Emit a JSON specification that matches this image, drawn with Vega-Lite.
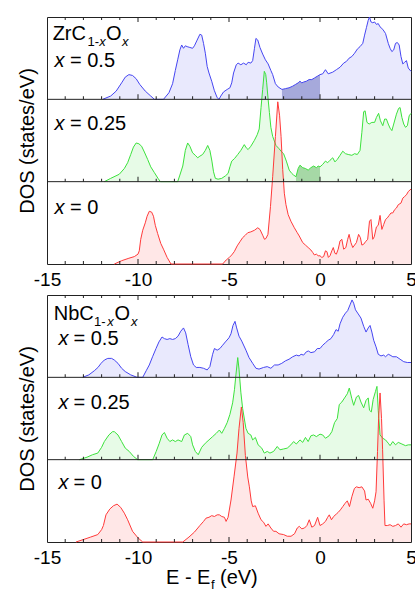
{
"$schema":"https://vega.github.io/schema/vega-lite/v6.json",
"padding":{"left":16,"top":14,"right":0,"bottom":0},
"spacing":4,
"config":{"view":{"stroke":"#222","strokeWidth":1},"font":"Liberation Sans","axis":{"grid":false,"ticks":false,"domain":false}},
"datasets":{
"Z5":[{"E":-11.94,"y":2},{"E":-11.5,"y":2.04},{"E":-11.2,"y":2.1},{"E":-10.9,"y":2.2},{"E":-10.7,"y":2.27},{"E":-10.5,"y":2.3},{"E":-10.3,"y":2.29},{"E":-10.1,"y":2.25},{"E":-9.9,"y":2.18},{"E":-9.6,"y":2.1},{"E":-9.3,"y":2.04},{"E":-9.1,"y":2},{"E":-8.6,"y":2},{"E":-8.3,"y":2.08},{"E":-8.1,"y":2.19},{"E":-7.95,"y":2.35},{"E":-7.82,"y":2.48},{"E":-7.7,"y":2.6},{"E":-7.6,"y":2.66},{"E":-7.5,"y":2.62},{"E":-7.4,"y":2.65},{"E":-7.3,"y":2.64},{"E":-7.15,"y":2.63},{"E":-7.0,"y":2.62},{"E":-6.9,"y":2.65},{"E":-6.75,"y":2.72},{"E":-6.6,"y":2.79},{"E":-6.5,"y":2.78},{"E":-6.4,"y":2.68},{"E":-6.3,"y":2.56},{"E":-6.2,"y":2.4},{"E":-6.1,"y":2.32},{"E":-5.95,"y":2.22},{"E":-5.81,"y":2.11},{"E":-5.65,"y":2.02},{"E":-5.55,"y":2.0},{"E":-5.45,"y":2.04},{"E":-5.3,"y":2.09},{"E":-5.1,"y":2.12},{"E":-4.95,"y":2.14},{"E":-4.85,"y":2.2},{"E":-4.75,"y":2.32},{"E":-4.6,"y":2.42},{"E":-4.5,"y":2.44},{"E":-4.35,"y":2.42},{"E":-4.2,"y":2.44},{"E":-4.05,"y":2.42},{"E":-3.95,"y":2.45},{"E":-3.8,"y":2.44},{"E":-3.7,"y":2.47},{"E":-3.6,"y":2.62},{"E":-3.52,"y":2.74},{"E":-3.42,"y":2.72},{"E":-3.3,"y":2.63},{"E":-3.15,"y":2.55},{"E":-3.0,"y":2.48},{"E":-2.85,"y":2.43},{"E":-2.7,"y":2.35},{"E":-2.6,"y":2.3},{"E":-2.45,"y":2.19},{"E":-2.3,"y":2.15},{"E":-2.09,"y":2.12},{"E":-1.9,"y":2.13},{"E":-1.7,"y":2.14},{"E":-1.5,"y":2.16},{"E":-1.35,"y":2.18},{"E":-1.2,"y":2.2},{"E":-1.1,"y":2.22},{"E":-1.0,"y":2.2},{"E":-0.9,"y":2.21},{"E":-0.75,"y":2.22},{"E":-0.6,"y":2.24},{"E":-0.45,"y":2.24},{"E":-0.3,"y":2.26},{"E":-0.15,"y":2.28},{"E":0,"y":2.3},{"E":0.15,"y":2.31},{"E":0.3,"y":2.36},{"E":0.45,"y":2.31},{"E":0.7,"y":2.33},{"E":0.9,"y":2.36},{"E":1.1,"y":2.39},{"E":1.3,"y":2.44},{"E":1.45,"y":2.46},{"E":1.6,"y":2.5},{"E":1.75,"y":2.52},{"E":1.9,"y":2.56},{"E":2.05,"y":2.61},{"E":2.2,"y":2.64},{"E":2.35,"y":2.68},{"E":2.45,"y":2.78},{"E":2.55,"y":2.87},{"E":2.65,"y":2.96},{"E":2.72,"y":3.0},{"E":2.8,"y":2.94},{"E":2.9,"y":2.93},{"E":3.0,"y":2.94},{"E":3.1,"y":2.91},{"E":3.2,"y":2.92},{"E":3.3,"y":2.88},{"E":3.45,"y":2.85},{"E":3.6,"y":2.8},{"E":3.75,"y":2.68},{"E":3.85,"y":2.62},{"E":3.95,"y":2.58},{"E":4.05,"y":2.6},{"E":4.15,"y":2.68},{"E":4.25,"y":2.69},{"E":4.35,"y":2.66},{"E":4.45,"y":2.52},{"E":4.55,"y":2.43},{"E":4.65,"y":2.45},{"E":4.75,"y":2.47},{"E":4.85,"y":2.38},{"E":5.0,"y":2.34}],
"Z25":[{"E":-11.85,"y":1},{"E":-11.5,"y":1.04},{"E":-11.03,"y":1.09},{"E":-10.75,"y":1.16},{"E":-10.57,"y":1.23},{"E":-10.4,"y":1.33},{"E":-10.25,"y":1.42},{"E":-10.1,"y":1.47},{"E":-9.95,"y":1.46},{"E":-9.8,"y":1.43},{"E":-9.65,"y":1.36},{"E":-9.47,"y":1.27},{"E":-9.3,"y":1.18},{"E":-9.1,"y":1.11},{"E":-8.9,"y":1.04},{"E":-8.77,"y":1},{"E":-7.82,"y":1},{"E":-7.7,"y":1.08},{"E":-7.54,"y":1.19},{"E":-7.4,"y":1.38},{"E":-7.27,"y":1.47},{"E":-7.15,"y":1.43},{"E":-7.0,"y":1.35},{"E":-6.85,"y":1.32},{"E":-6.72,"y":1.29},{"E":-6.6,"y":1.31},{"E":-6.45,"y":1.33},{"E":-6.3,"y":1.38},{"E":-6.17,"y":1.44},{"E":-6.05,"y":1.38},{"E":-5.94,"y":1.25},{"E":-5.85,"y":1.12},{"E":-5.75,"y":1.04},{"E":-5.6,"y":1.03},{"E":-5.4,"y":1.04},{"E":-5.2,"y":1.07},{"E":-5.05,"y":1.1},{"E":-4.95,"y":1.18},{"E":-4.85,"y":1.25},{"E":-4.7,"y":1.28},{"E":-4.52,"y":1.33},{"E":-4.35,"y":1.38},{"E":-4.16,"y":1.45},{"E":-4.05,"y":1.41},{"E":-3.95,"y":1.39},{"E":-3.8,"y":1.43},{"E":-3.61,"y":1.5},{"E":-3.45,"y":1.57},{"E":-3.34,"y":1.64},{"E":-3.24,"y":1.9},{"E":-3.15,"y":2.12},{"E":-3.06,"y":2.34},{"E":-2.98,"y":2.3},{"E":-2.93,"y":2.2},{"E":-2.85,"y":2.0},{"E":-2.78,"y":1.84},{"E":-2.7,"y":1.66},{"E":-2.6,"y":1.55},{"E":-2.42,"y":1.44},{"E":-2.25,"y":1.4},{"E":-2.1,"y":1.36},{"E":-2.0,"y":1.34},{"E":-1.85,"y":1.25},{"E":-1.69,"y":1.14},{"E":-1.55,"y":1.1},{"E":-1.45,"y":1.08},{"E":-1.32,"y":1.06},{"E":-1.2,"y":1.16},{"E":-1.1,"y":1.2},{"E":-0.95,"y":1.17},{"E":-0.8,"y":1.16},{"E":-0.65,"y":1.14},{"E":-0.5,"y":1.17},{"E":-0.35,"y":1.19},{"E":-0.2,"y":1.17},{"E":-0.1,"y":1.19},{"E":0,"y":1.18},{"E":0.15,"y":1.21},{"E":0.3,"y":1.25},{"E":0.42,"y":1.23},{"E":0.55,"y":1.26},{"E":0.7,"y":1.29},{"E":0.82,"y":1.24},{"E":0.95,"y":1.27},{"E":1.1,"y":1.32},{"E":1.25,"y":1.37},{"E":1.4,"y":1.34},{"E":1.55,"y":1.33},{"E":1.75,"y":1.32},{"E":1.9,"y":1.34},{"E":2.05,"y":1.33},{"E":2.2,"y":1.38},{"E":2.3,"y":1.6},{"E":2.4,"y":1.85},{"E":2.48,"y":1.86},{"E":2.58,"y":1.72},{"E":2.7,"y":1.7},{"E":2.85,"y":1.72},{"E":3.0,"y":1.72},{"E":3.1,"y":1.78},{"E":3.22,"y":1.83},{"E":3.32,"y":1.74},{"E":3.45,"y":1.68},{"E":3.55,"y":1.76},{"E":3.65,"y":1.76},{"E":3.75,"y":1.7},{"E":3.85,"y":1.65},{"E":3.95,"y":1.62},{"E":4.05,"y":1.7},{"E":4.2,"y":1.82},{"E":4.32,"y":1.89},{"E":4.4,"y":1.9},{"E":4.5,"y":1.78},{"E":4.6,"y":1.7},{"E":4.7,"y":1.66},{"E":4.8,"y":1.68},{"E":4.9,"y":1.8},{"E":5.0,"y":1.83}],
"Z0":[{"E":-11.3,"y":0},{"E":-10.9,"y":0.04},{"E":-10.5,"y":0.07},{"E":-10.2,"y":0.09},{"E":-10.0,"y":0.12},{"E":-9.93,"y":0.16},{"E":-9.85,"y":0.3},{"E":-9.74,"y":0.41},{"E":-9.6,"y":0.5},{"E":-9.5,"y":0.58},{"E":-9.38,"y":0.64},{"E":-9.25,"y":0.63},{"E":-9.15,"y":0.58},{"E":-9.05,"y":0.47},{"E":-8.92,"y":0.37},{"E":-8.75,"y":0.25},{"E":-8.6,"y":0.18},{"E":-8.4,"y":0.08},{"E":-8.19,"y":0},{"E":-5.35,"y":0},{"E":-5.15,"y":0.05},{"E":-4.98,"y":0.08},{"E":-4.85,"y":0.11},{"E":-4.71,"y":0.15},{"E":-4.55,"y":0.22},{"E":-4.4,"y":0.27},{"E":-4.25,"y":0.32},{"E":-4.1,"y":0.35},{"E":-3.97,"y":0.38},{"E":-3.8,"y":0.39},{"E":-3.6,"y":0.41},{"E":-3.42,"y":0.44},{"E":-3.3,"y":0.42},{"E":-3.15,"y":0.35},{"E":-3.05,"y":0.3},{"E":-2.97,"y":0.31},{"E":-2.86,"y":0.36},{"E":-2.72,"y":0.7},{"E":-2.6,"y":1.06},{"E":-2.45,"y":1.55},{"E":-2.32,"y":1.97},{"E":-2.22,"y":1.8},{"E":-2.14,"y":1.55},{"E":-2.05,"y":1.15},{"E":-1.96,"y":0.86},{"E":-1.87,"y":0.72},{"E":-1.75,"y":0.6},{"E":-1.6,"y":0.52},{"E":-1.41,"y":0.44},{"E":-1.25,"y":0.38},{"E":-1.14,"y":0.34},{"E":-0.95,"y":0.26},{"E":-0.8,"y":0.23},{"E":-0.65,"y":0.2},{"E":-0.5,"y":0.17},{"E":-0.4,"y":0.14},{"E":-0.31,"y":0.11},{"E":-0.2,"y":0.12},{"E":-0.1,"y":0.1},{"E":0,"y":0.1},{"E":0.1,"y":0.08},{"E":0.2,"y":0.09},{"E":0.3,"y":0.16},{"E":0.38,"y":0.15},{"E":0.46,"y":0.08},{"E":0.55,"y":0.1},{"E":0.65,"y":0.16},{"E":0.73,"y":0.2},{"E":0.82,"y":0.13},{"E":0.9,"y":0.12},{"E":1.0,"y":0.18},{"E":1.1,"y":0.28},{"E":1.2,"y":0.3},{"E":1.3,"y":0.18},{"E":1.42,"y":0.2},{"E":1.52,"y":0.3},{"E":1.6,"y":0.36},{"E":1.7,"y":0.26},{"E":1.8,"y":0.2},{"E":1.9,"y":0.23},{"E":2.0,"y":0.26},{"E":2.12,"y":0.36},{"E":2.22,"y":0.32},{"E":2.3,"y":0.23},{"E":2.4,"y":0.24},{"E":2.5,"y":0.27},{"E":2.62,"y":0.3},{"E":2.72,"y":0.52},{"E":2.8,"y":0.54},{"E":2.9,"y":0.3},{"E":2.98,"y":0.33},{"E":3.1,"y":0.45},{"E":3.2,"y":0.47},{"E":3.3,"y":0.59},{"E":3.4,"y":0.42},{"E":3.5,"y":0.48},{"E":3.6,"y":0.54},{"E":3.7,"y":0.56},{"E":3.8,"y":0.59},{"E":3.9,"y":0.62},{"E":4.0,"y":0.62},{"E":4.1,"y":0.66},{"E":4.2,"y":0.68},{"E":4.3,"y":0.72},{"E":4.45,"y":0.74},{"E":4.55,"y":0.8},{"E":4.65,"y":0.82},{"E":4.75,"y":0.84},{"E":4.85,"y":0.88},{"E":5.0,"y":0.91}],
"N5":[{"E":-13.04,"y":2},{"E":-12.7,"y":2.03},{"E":-12.4,"y":2.08},{"E":-12.2,"y":2.12},{"E":-12.03,"y":2.17},{"E":-11.85,"y":2.21},{"E":-11.66,"y":2.23},{"E":-11.45,"y":2.23},{"E":-11.3,"y":2.21},{"E":-11.1,"y":2.17},{"E":-10.9,"y":2.11},{"E":-10.7,"y":2.07},{"E":-10.4,"y":2.03},{"E":-10.05,"y":2},{"E":-9.74,"y":2},{"E":-9.55,"y":2.08},{"E":-9.38,"y":2.15},{"E":-9.2,"y":2.25},{"E":-9.01,"y":2.35},{"E":-8.85,"y":2.43},{"E":-8.68,"y":2.49},{"E":-8.55,"y":2.47},{"E":-8.4,"y":2.46},{"E":-8.25,"y":2.47},{"E":-8.1,"y":2.46},{"E":-7.95,"y":2.47},{"E":-7.8,"y":2.5},{"E":-7.65,"y":2.56},{"E":-7.5,"y":2.6},{"E":-7.38,"y":2.54},{"E":-7.25,"y":2.4},{"E":-7.1,"y":2.25},{"E":-6.95,"y":2.15},{"E":-6.8,"y":2.12},{"E":-6.6,"y":2.12},{"E":-6.4,"y":2.11},{"E":-6.2,"y":2.09},{"E":-6.05,"y":2.13},{"E":-5.9,"y":2.28},{"E":-5.8,"y":2.35},{"E":-5.65,"y":2.33},{"E":-5.5,"y":2.35},{"E":-5.35,"y":2.39},{"E":-5.2,"y":2.43},{"E":-5.0,"y":2.48},{"E":-4.89,"y":2.53},{"E":-4.78,"y":2.63},{"E":-4.67,"y":2.68},{"E":-4.58,"y":2.6},{"E":-4.45,"y":2.5},{"E":-4.3,"y":2.44},{"E":-4.07,"y":2.33},{"E":-3.9,"y":2.24},{"E":-3.7,"y":2.17},{"E":-3.52,"y":2.11},{"E":-3.35,"y":2.1},{"E":-3.1,"y":2.12},{"E":-2.9,"y":2.13},{"E":-2.7,"y":2.11},{"E":-2.5,"y":2.15},{"E":-2.3,"y":2.15},{"E":-2.1,"y":2.17},{"E":-1.9,"y":2.2},{"E":-1.7,"y":2.22},{"E":-1.5,"y":2.25},{"E":-1.3,"y":2.27},{"E":-1.15,"y":2.26},{"E":-1.04,"y":2.28},{"E":-0.9,"y":2.27},{"E":-0.75,"y":2.31},{"E":-0.64,"y":2.32},{"E":-0.5,"y":2.3},{"E":-0.3,"y":2.31},{"E":-0.15,"y":2.35},{"E":0,"y":2.35},{"E":0.15,"y":2.39},{"E":0.3,"y":2.42},{"E":0.45,"y":2.45},{"E":0.6,"y":2.47},{"E":0.75,"y":2.52},{"E":0.88,"y":2.58},{"E":1.0,"y":2.56},{"E":1.1,"y":2.65},{"E":1.25,"y":2.73},{"E":1.4,"y":2.78},{"E":1.52,"y":2.81},{"E":1.65,"y":2.88},{"E":1.76,"y":2.94},{"E":1.85,"y":2.9},{"E":1.95,"y":2.82},{"E":2.1,"y":2.77},{"E":2.25,"y":2.72},{"E":2.4,"y":2.62},{"E":2.53,"y":2.55},{"E":2.65,"y":2.6},{"E":2.75,"y":2.63},{"E":2.85,"y":2.55},{"E":2.95,"y":2.45},{"E":3.08,"y":2.37},{"E":3.2,"y":2.28},{"E":3.35,"y":2.26},{"E":3.5,"y":2.27},{"E":3.6,"y":2.25},{"E":3.75,"y":2.28},{"E":3.85,"y":2.27},{"E":4.0,"y":2.25},{"E":4.2,"y":2.25},{"E":4.4,"y":2.22},{"E":4.6,"y":2.19},{"E":4.8,"y":2.18},{"E":5.0,"y":2.18}],
"N25":[{"E":-13.22,"y":1},{"E":-12.8,"y":1.03},{"E":-12.5,"y":1.06},{"E":-12.21,"y":1.08},{"E":-12.0,"y":1.15},{"E":-11.85,"y":1.22},{"E":-11.6,"y":1.3},{"E":-11.4,"y":1.34},{"E":-11.3,"y":1.34},{"E":-11.1,"y":1.3},{"E":-10.9,"y":1.22},{"E":-10.7,"y":1.14},{"E":-10.48,"y":1.1},{"E":-10.25,"y":1.04},{"E":-10.02,"y":1},{"E":-9.19,"y":1},{"E":-9.0,"y":1.1},{"E":-8.83,"y":1.2},{"E":-8.68,"y":1.3},{"E":-8.55,"y":1.33},{"E":-8.4,"y":1.26},{"E":-8.25,"y":1.22},{"E":-8.1,"y":1.24},{"E":-7.95,"y":1.22},{"E":-7.8,"y":1.24},{"E":-7.6,"y":1.22},{"E":-7.45,"y":1.3},{"E":-7.27,"y":1.32},{"E":-7.1,"y":1.28},{"E":-7.0,"y":1.18},{"E":-6.85,"y":1.1},{"E":-6.69,"y":1.06},{"E":-6.5,"y":1.15},{"E":-6.3,"y":1.2},{"E":-6.1,"y":1.24},{"E":-5.9,"y":1.28},{"E":-5.7,"y":1.32},{"E":-5.53,"y":1.36},{"E":-5.4,"y":1.32},{"E":-5.25,"y":1.38},{"E":-5.1,"y":1.45},{"E":-4.95,"y":1.55},{"E":-4.8,"y":1.69},{"E":-4.7,"y":1.85},{"E":-4.62,"y":2.03},{"E":-4.52,"y":2.24},{"E":-4.45,"y":2.1},{"E":-4.35,"y":1.82},{"E":-4.25,"y":1.62},{"E":-4.07,"y":1.38},{"E":-3.95,"y":1.32},{"E":-3.8,"y":1.3},{"E":-3.7,"y":1.24},{"E":-3.55,"y":1.27},{"E":-3.4,"y":1.18},{"E":-3.2,"y":1.14},{"E":-3.06,"y":1.08},{"E":-2.9,"y":1.1},{"E":-2.75,"y":1.08},{"E":-2.55,"y":1.1},{"E":-2.35,"y":1.16},{"E":-2.2,"y":1.12},{"E":-2.0,"y":1.13},{"E":-1.8,"y":1.14},{"E":-1.6,"y":1.18},{"E":-1.45,"y":1.22},{"E":-1.3,"y":1.19},{"E":-1.1,"y":1.24},{"E":-0.95,"y":1.21},{"E":-0.8,"y":1.27},{"E":-0.65,"y":1.22},{"E":-0.5,"y":1.29},{"E":-0.35,"y":1.3},{"E":-0.2,"y":1.28},{"E":0,"y":1.31},{"E":0.15,"y":1.3},{"E":0.3,"y":1.26},{"E":0.5,"y":1.29},{"E":0.65,"y":1.34},{"E":0.8,"y":1.45},{"E":0.95,"y":1.5},{"E":1.06,"y":1.67},{"E":1.2,"y":1.7},{"E":1.35,"y":1.75},{"E":1.5,"y":1.8},{"E":1.61,"y":1.87},{"E":1.75,"y":1.74},{"E":1.85,"y":1.66},{"E":2.0,"y":1.76},{"E":2.12,"y":1.78},{"E":2.25,"y":1.7},{"E":2.4,"y":1.63},{"E":2.53,"y":1.72},{"E":2.65,"y":1.75},{"E":2.72,"y":1.6},{"E":2.82,"y":1.58},{"E":2.92,"y":1.73},{"E":3.05,"y":1.83},{"E":3.13,"y":1.89},{"E":3.2,"y":1.6},{"E":3.3,"y":1.3},{"E":3.45,"y":1.26},{"E":3.6,"y":1.24},{"E":3.75,"y":1.2},{"E":3.85,"y":1.17},{"E":4.0,"y":1.22},{"E":4.15,"y":1.18},{"E":4.3,"y":1.21},{"E":4.5,"y":1.19},{"E":4.7,"y":1.17},{"E":4.85,"y":1.18},{"E":5.0,"y":1.18}],
"N0":[{"E":-13.41,"y":0},{"E":-13.0,"y":0.03},{"E":-12.6,"y":0.06},{"E":-12.21,"y":0.09},{"E":-12.0,"y":0.15},{"E":-11.9,"y":0.2},{"E":-11.76,"y":0.33},{"E":-11.55,"y":0.4},{"E":-11.35,"y":0.44},{"E":-11.15,"y":0.46},{"E":-10.95,"y":0.42},{"E":-10.75,"y":0.35},{"E":-10.57,"y":0.27},{"E":-10.3,"y":0.13},{"E":-10.0,"y":0.05},{"E":-9.74,"y":0},{"E":-7.54,"y":0},{"E":-7.2,"y":0.06},{"E":-6.9,"y":0.12},{"E":-6.6,"y":0.2},{"E":-6.4,"y":0.25},{"E":-6.26,"y":0.29},{"E":-6.1,"y":0.3},{"E":-5.95,"y":0.32},{"E":-5.8,"y":0.31},{"E":-5.65,"y":0.33},{"E":-5.53,"y":0.33},{"E":-5.4,"y":0.31},{"E":-5.25,"y":0.3},{"E":-5.16,"y":0.25},{"E":-5.05,"y":0.3},{"E":-4.89,"y":0.51},{"E":-4.72,"y":0.8},{"E":-4.56,"y":1.08},{"E":-4.45,"y":1.38},{"E":-4.32,"y":1.64},{"E":-4.22,"y":1.45},{"E":-4.1,"y":1.05},{"E":-3.97,"y":0.79},{"E":-3.88,"y":0.67},{"E":-3.78,"y":0.5},{"E":-3.7,"y":0.43},{"E":-3.55,"y":0.44},{"E":-3.4,"y":0.35},{"E":-3.24,"y":0.27},{"E":-3.1,"y":0.24},{"E":-2.97,"y":0.19},{"E":-2.85,"y":0.22},{"E":-2.7,"y":0.17},{"E":-2.55,"y":0.13},{"E":-2.42,"y":0.13},{"E":-2.25,"y":0.1},{"E":-2.0,"y":0.09},{"E":-1.8,"y":0.07},{"E":-1.59,"y":0.07},{"E":-1.4,"y":0.1},{"E":-1.25,"y":0.17},{"E":-1.14,"y":0.19},{"E":-1.0,"y":0.16},{"E":-0.85,"y":0.17},{"E":-0.72,"y":0.2},{"E":-0.59,"y":0.27},{"E":-0.45,"y":0.18},{"E":-0.3,"y":0.2},{"E":-0.13,"y":0.3},{"E":0,"y":0.2},{"E":0.15,"y":0.22},{"E":0.3,"y":0.25},{"E":0.42,"y":0.3},{"E":0.51,"y":0.33},{"E":0.63,"y":0.27},{"E":0.75,"y":0.31},{"E":0.9,"y":0.34},{"E":1.0,"y":0.36},{"E":1.12,"y":0.39},{"E":1.25,"y":0.43},{"E":1.38,"y":0.47},{"E":1.5,"y":0.5},{"E":1.62,"y":0.43},{"E":1.75,"y":0.55},{"E":1.89,"y":0.65},{"E":2.0,"y":0.67},{"E":2.15,"y":0.66},{"E":2.3,"y":0.67},{"E":2.45,"y":0.62},{"E":2.53,"y":0.51},{"E":2.65,"y":0.52},{"E":2.78,"y":0.47},{"E":2.9,"y":0.41},{"E":3.0,"y":0.5},{"E":3.08,"y":0.61},{"E":3.16,"y":1.1},{"E":3.22,"y":1.5},{"E":3.3,"y":1.81},{"E":3.38,"y":1.5},{"E":3.44,"y":1.12},{"E":3.52,"y":0.5},{"E":3.57,"y":0.2},{"E":3.7,"y":0.2},{"E":3.85,"y":0.21},{"E":4.0,"y":0.19},{"E":4.15,"y":0.2},{"E":4.3,"y":0.22},{"E":4.45,"y":0.18},{"E":4.6,"y":0.22},{"E":4.75,"y":0.21},{"E":4.9,"y":0.22},{"E":5.0,"y":0.22}],
"ticks":[{"E":-14,"y":0},{"E":-14,"y":1},{"E":-14,"y":2},{"E":-14,"y":3},{"E":-13,"y":0},{"E":-13,"y":1},{"E":-13,"y":2},{"E":-13,"y":3},{"E":-12,"y":0},{"E":-12,"y":1},{"E":-12,"y":2},{"E":-12,"y":3},{"E":-11,"y":0},{"E":-11,"y":1},{"E":-11,"y":2},{"E":-11,"y":3},{"E":-10,"y":0},{"E":-10,"y":1},{"E":-10,"y":2},{"E":-10,"y":3},{"E":-9,"y":0},{"E":-9,"y":1},{"E":-9,"y":2},{"E":-9,"y":3},{"E":-8,"y":0},{"E":-8,"y":1},{"E":-8,"y":2},{"E":-8,"y":3},{"E":-7,"y":0},{"E":-7,"y":1},{"E":-7,"y":2},{"E":-7,"y":3},{"E":-6,"y":0},{"E":-6,"y":1},{"E":-6,"y":2},{"E":-6,"y":3},{"E":-5,"y":0},{"E":-5,"y":1},{"E":-5,"y":2},{"E":-5,"y":3},{"E":-4,"y":0},{"E":-4,"y":1},{"E":-4,"y":2},{"E":-4,"y":3},{"E":-3,"y":0},{"E":-3,"y":1},{"E":-3,"y":2},{"E":-3,"y":3},{"E":-2,"y":0},{"E":-2,"y":1},{"E":-2,"y":2},{"E":-2,"y":3},{"E":-1,"y":0},{"E":-1,"y":1},{"E":-1,"y":2},{"E":-1,"y":3},{"E":0,"y":0},{"E":0,"y":1},{"E":0,"y":2},{"E":0,"y":3},{"E":1,"y":0},{"E":1,"y":1},{"E":1,"y":2},{"E":1,"y":3},{"E":2,"y":0},{"E":2,"y":1},{"E":2,"y":2},{"E":2,"y":3},{"E":3,"y":0},{"E":3,"y":1},{"E":3,"y":2},{"E":3,"y":3},{"E":4,"y":0},{"E":4,"y":1},{"E":4,"y":2},{"E":4,"y":3}]
},
"vconcat":[
{"width":364,"height":247,
"encoding":{"x":{"field":"E","type":"quantitative","scale":{"domain":[-15,5],"nice":false,"zero":false},"axis":{"values":[-15,-10,-5,0,5],"labelExpr":"''+datum.value","ticks":false,"domain":false,"grid":false,"labelFontSize":19,"labelPadding":6,"labelFlush":false,"labelColor":"#000","labelFont":"Liberation Sans","title":null}},
 "y":{"field":"y","type":"quantitative","scale":{"domain":[0,3],"nice":false,"zero":false},"axis":{"title":"DOS (states/eV)","labels":false,"ticks":false,"domain":false,"grid":false,"titleFontSize":20,"titleFontWeight":"normal","titleFont":"Liberation Sans","titleColor":"#000","titlePadding":10}}},
"layer":[
{"data":{"name":"Z5"},"mark":{"type":"area","color":"#4646F2","fillOpacity":0.12},"encoding":{"y2":{"datum":2}}},
{"data":{"name":"Z5"},"transform":[{"filter":"datum.E>=-2.09 && datum.E<=0"}],"mark":{"type":"area","color":"#A6A9DB"},"encoding":{"y2":{"datum":2}}},
{"data":{"name":"Z25"},"mark":{"type":"area","color":"#3CE23C","fillOpacity":0.12},"encoding":{"y2":{"datum":1}}},
{"data":{"name":"Z25"},"transform":[{"filter":"datum.E>=-1.32 && datum.E<=0"}],"mark":{"type":"area","color":"#A6D8A6"},"encoding":{"y2":{"datum":1}}},
{"data":{"name":"Z0"},"mark":{"type":"area","color":"#FF3A3A","fillOpacity":0.12},"encoding":{"y2":{"datum":0}}},
{"data":{"name":"Z5"},"mark":{"type":"line","color":"#4646F2","strokeWidth":1}},
{"data":{"name":"Z25"},"mark":{"type":"line","color":"#3CE23C","strokeWidth":1}},
{"data":{"name":"Z0"},"mark":{"type":"line","color":"#FF3A3A","strokeWidth":1}},
{"data":{"values":[{"E":-15,"y":1},{"E":-15,"y":2}]},"mark":{"type":"rule","color":"#222","strokeWidth":1},"encoding":{"x2":{"datum":5}}},
{"data":{"name":"ticks"},"transform":[{"filter":"datum.y<3 && datum.E%5!=0"}],"mark":{"type":"tick","orient":"vertical","size":3,"thickness":1,"yOffset":-1.5,"color":"#222","opacity":1}},
{"data":{"name":"ticks"},"transform":[{"filter":"datum.y<3 && datum.E%5==0"}],"mark":{"type":"tick","orient":"vertical","size":5,"thickness":1,"yOffset":-2.5,"color":"#222","opacity":1}},
{"data":{"name":"ticks"},"transform":[{"filter":"datum.y==3 && datum.E%5!=0"}],"mark":{"type":"tick","orient":"vertical","size":3,"thickness":1,"yOffset":1.5,"color":"#222","opacity":1}},
{"data":{"name":"ticks"},"transform":[{"filter":"datum.y==3 && datum.E%5==0"}],"mark":{"type":"tick","orient":"vertical","size":5,"thickness":1,"yOffset":2.5,"color":"#222","opacity":1}},
{"data":{"values":[{"E":-14.69,"y":2.717,"t":"ZrC"},{"E":-11.758,"y":2.717,"t":"O"},{"E":-13.736,"y":2.389,"t":"= 0.5"},{"E":-13.736,"y":1.627,"t":"= 0.25"},{"E":-13.736,"y":0.611,"t":"= 0"}]},
 "mark":{"type":"text","align":"left","baseline":"alphabetic","fontSize":20,"font":"Liberation Sans","color":"#000"},"encoding":{"text":{"field":"t"}}},
{"data":{"values":[{"E":-14.588,"y":2.389,"t":"x"},{"E":-14.588,"y":1.627,"t":"x"},{"E":-14.588,"y":0.611,"t":"x"}]},
 "mark":{"type":"text","align":"left","baseline":"alphabetic","fontSize":20,"fontStyle":"italic","font":"Liberation Sans","color":"#000"},"encoding":{"text":{"field":"t"}}},
{"data":{"values":[{"E":-12.775,"y":2.644,"t":"1-"}]},
 "mark":{"type":"text","align":"left","baseline":"alphabetic","fontSize":13,"font":"Liberation Sans","color":"#000"},"encoding":{"text":{"field":"t"}}},
{"data":{"values":[{"E":-12.126,"y":2.644,"t":"x"},{"E":-10.879,"y":2.644,"t":"x"}]},
 "mark":{"type":"text","align":"left","baseline":"alphabetic","fontSize":13,"fontStyle":"italic","font":"Liberation Sans","color":"#000"},"encoding":{"text":{"field":"t"}}}
]},
{"width":364,"height":247,
"encoding":{"x":{"field":"E","type":"quantitative","scale":{"domain":[-15,5],"nice":false,"zero":false},"axis":{"values":[-15,-10,-5,0,5],"labelExpr":"''+datum.value","ticks":false,"domain":false,"grid":false,"labelFontSize":19,"labelPadding":6,"labelFlush":false,"labelColor":"#000","labelFont":"Liberation Sans","title":null}},
 "y":{"field":"y","type":"quantitative","scale":{"domain":[0,3],"nice":false,"zero":false},"axis":{"title":"DOS (states/eV)","labels":false,"ticks":false,"domain":false,"grid":false,"titleFontSize":20,"titleFontWeight":"normal","titleFont":"Liberation Sans","titleColor":"#000","titlePadding":10}}},
"layer":[
{"data":{"name":"N5"},"mark":{"type":"area","color":"#4646F2","fillOpacity":0.12},"encoding":{"y2":{"datum":2}}},
{"data":{"name":"N25"},"mark":{"type":"area","color":"#3CE23C","fillOpacity":0.12},"encoding":{"y2":{"datum":1}}},
{"data":{"name":"N0"},"mark":{"type":"area","color":"#FF3A3A","fillOpacity":0.12},"encoding":{"y2":{"datum":0}}},
{"data":{"name":"N5"},"mark":{"type":"line","color":"#4646F2","strokeWidth":1}},
{"data":{"name":"N25"},"mark":{"type":"line","color":"#3CE23C","strokeWidth":1}},
{"data":{"name":"N0"},"mark":{"type":"line","color":"#FF3A3A","strokeWidth":1}},
{"data":{"values":[{"E":-15,"y":1},{"E":-15,"y":2}]},"mark":{"type":"rule","color":"#222","strokeWidth":1},"encoding":{"x2":{"datum":5}}},
{"data":{"name":"ticks"},"transform":[{"filter":"datum.y<3 && datum.E%5!=0"}],"mark":{"type":"tick","orient":"vertical","size":3,"thickness":1,"yOffset":-1.5,"color":"#222","opacity":1}},
{"data":{"name":"ticks"},"transform":[{"filter":"datum.y<3 && datum.E%5==0"}],"mark":{"type":"tick","orient":"vertical","size":5,"thickness":1,"yOffset":-2.5,"color":"#222","opacity":1}},
{"data":{"name":"ticks"},"transform":[{"filter":"datum.y==3 && datum.E%5!=0"}],"mark":{"type":"tick","orient":"vertical","size":3,"thickness":1,"yOffset":1.5,"color":"#222","opacity":1}},
{"data":{"name":"ticks"},"transform":[{"filter":"datum.y==3 && datum.E%5==0"}],"mark":{"type":"tick","orient":"vertical","size":5,"thickness":1,"yOffset":2.5,"color":"#222","opacity":1}},
{"data":{"values":[{"E":-14.632,"y":2.696,"t":"NbC"},{"E":-11.29,"y":2.696,"t":"O"},{"E":-13.544,"y":2.392,"t":"= 0.5"},{"E":-13.544,"y":1.62,"t":"= 0.25"},{"E":-13.544,"y":0.644,"t":"= 0"},{"E":-8.462,"y":-0.51,"t":"E - E"},{"E":-5.495,"y":-0.51,"t":"(eV)"}]},
 "mark":{"type":"text","align":"left","baseline":"alphabetic","fontSize":20,"font":"Liberation Sans","color":"#000"},"encoding":{"text":{"field":"t"}}},
{"data":{"values":[{"E":-14.368,"y":2.392,"t":"x"},{"E":-14.368,"y":1.62,"t":"x"},{"E":-14.368,"y":0.644,"t":"x"}]},
 "mark":{"type":"text","align":"left","baseline":"alphabetic","fontSize":20,"fontStyle":"italic","font":"Liberation Sans","color":"#000"},"encoding":{"text":{"field":"t"}}},
{"data":{"values":[{"E":-12.418,"y":2.623,"t":"1-"},{"E":-5.99,"y":-0.57,"t":"f"}]},
 "mark":{"type":"text","align":"left","baseline":"alphabetic","fontSize":13,"font":"Liberation Sans","color":"#000"},"encoding":{"text":{"field":"t"}}},
{"data":{"values":[{"E":-11.69,"y":2.623,"t":"x"},{"E":-10.38,"y":2.623,"t":"x"}]},
 "mark":{"type":"text","align":"left","baseline":"alphabetic","fontSize":13,"fontStyle":"italic","font":"Liberation Sans","color":"#000"},"encoding":{"text":{"field":"t"}}}
]}
]
}
